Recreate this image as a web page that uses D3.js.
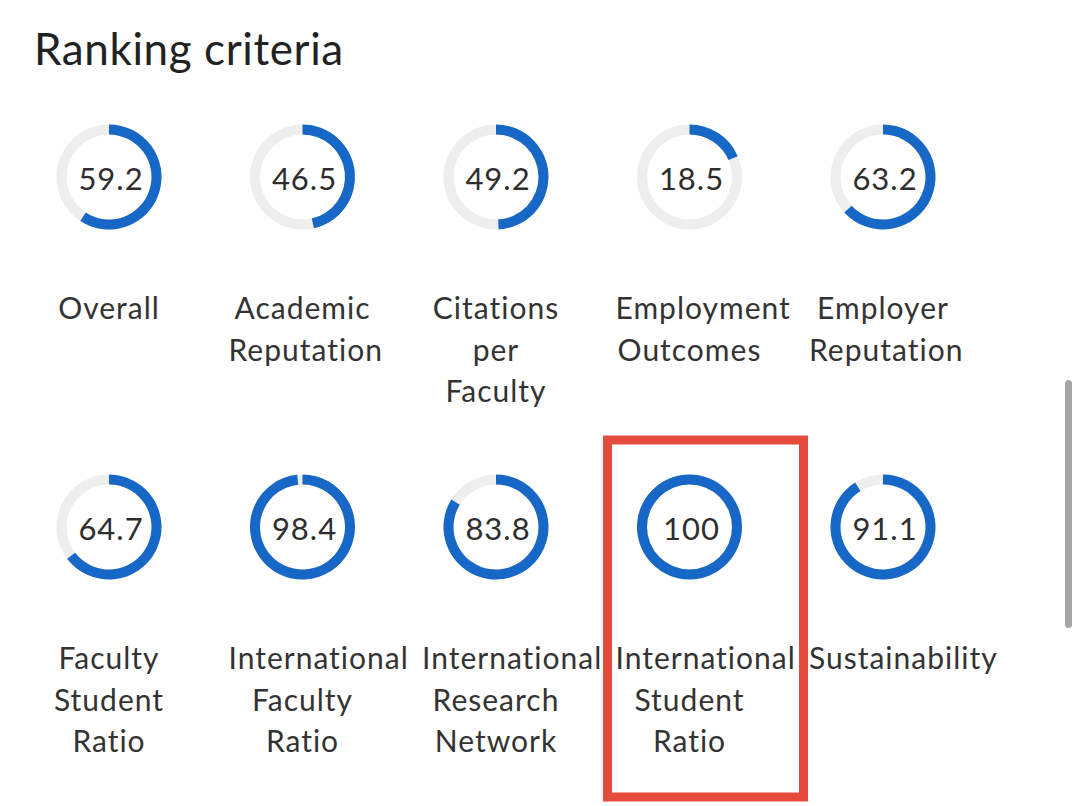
<!DOCTYPE html>
<html>
<head>
<meta charset="utf-8">
<script src="https://cdn.jsdelivr.net/npm/d3@7"></script>
<style>
  html, body { margin: 0; padding: 0; background: #fff; }
  svg { display: block; }
</style>
</head>
<body>
<svg id="chart" width="1080" height="806"></svg>
<script>
// ---- data ----
const title = "Ranking criteria";
const categories = [
  ["Overall"],
  ["Academic", "Reputation"],
  ["Citations", "per", "Faculty"],
  ["Employment", "Outcomes"],
  ["Employer", "Reputation"],
  ["Faculty", "Student", "Ratio"],
  ["International", "Faculty", "Ratio"],
  ["International", "Research", "Network"],
  ["International", "Student", "Ratio"],
  ["Sustainability"]
];
const scores = [59.2, 46.5, 49.2, 18.5, 63.2, 64.7, 98.4, 83.8, 100, 91.1];
const scoreLabels = ["59.2", "46.5", "49.2", "18.5", "63.2", "64.7", "98.4", "83.8", "100", "91.1"];
const highlighted = ["International Student Ratio"];

// ---- layout ----
const W = 1080, H = 806;
const nCols = 5;
const colX = d3.scaleLinear().domain([0, nCols - 1]).range([109, 883]);
const rowY = d3.scaleLinear().domain([0, 1]).range([177, 527]);
const colWidth = 148;
const rOuter = 52.5, rInner = 42.5;
const labelFont = "Lato, 'Open Sans', sans-serif";

const angle = d3.scaleLinear().domain([0, 100]).range([0, 2 * Math.PI]);
const arc = d3.arc().innerRadius(rInner).outerRadius(rOuter).startAngle(0);

const svg = d3.select("#chart");
svg.append("rect").attr("width", W).attr("height", H).attr("fill", "#fff");

svg.append("text")
  .attr("x", 34).attr("y", 65)
  .attr("font-family", labelFont)
  .attr("font-size", 44)
  .attr("letter-spacing", 0.6)
  .attr("fill", "#222")
  .text(title);

const items = categories.map((lines, i) => ({
  lines, value: scores[i], label: scoreLabels[i],
  col: i % nCols, row: Math.floor(i / nCols)
}));

const g = svg.selectAll("g.item").data(items).join("g")
  .attr("class", "item")
  .attr("transform", d => `translate(${colX(d.col)},${rowY(d.row)})`);

g.append("path")
  .attr("d", arc({ endAngle: 2 * Math.PI }))
  .attr("fill", "#eeeeee");

g.append("path")
  .attr("d", d => arc({ endAngle: angle(d.value) }))
  .attr("fill", "#1667c6");

g.append("text")
  .attr("x", 2).attr("y", 13)
  .attr("text-anchor", "middle")
  .attr("font-family", labelFont)
  .attr("font-size", 31)
  .attr("letter-spacing", 1)
  .attr("fill", "#2e2e2e")
  .text(d => d.label);

g.each(function(d) {
  const sel = d3.select(this);
  d.lines.forEach((line, j) => {
    const t = sel.append("text")
      .attr("y", 142 + j * 41.5)
      .attr("font-family", labelFont)
      .attr("font-size", 30)
      .attr("letter-spacing", 1)
      .attr("fill", "#333")
      .text(line);
    const w = t.node().getComputedTextLength();
    if (w > colWidth) {
      t.attr("x", -colWidth / 2).attr("text-anchor", "start");
    } else {
      t.attr("x", 0).attr("text-anchor", "middle");
    }
  });
});

// highlight box
items.forEach(d => {
  if (highlighted.includes(d.lines.join(" "))) {
    svg.append("rect")
      .attr("x", colX(d.col) - 82)
      .attr("y", rowY(d.row) - 87)
      .attr("width", 196)
      .attr("height", 357)
      .attr("fill", "none")
      .attr("stroke", "#e54b3c")
      .attr("stroke-width", 9);
  }
});

// scrollbar
svg.append("rect")
  .attr("x", 1065).attr("y", 380)
  .attr("width", 7).attr("height", 248)
  .attr("rx", 3.5)
  .attr("fill", "#a6a6a6");
</script>
</body>
</html>
